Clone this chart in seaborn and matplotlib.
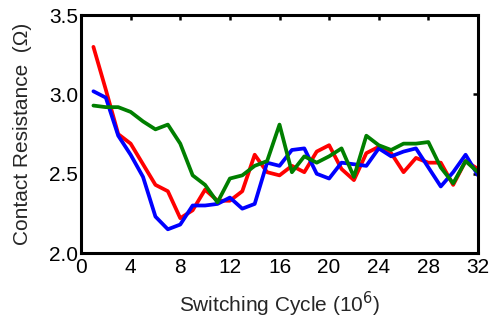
import matplotlib
matplotlib.use("Agg")
import matplotlib.pyplot as plt
import numpy as np
import pandas as pd
import seaborn as sns

# Switching cycles (millions) and measured contact resistance (ohm) for three samples
cycles = list(range(1, 33))
red_vals = [3.30, 3.03, 2.75, 2.69, 2.56, 2.43, 2.39, 2.22, 2.27, 2.40,
            2.33, 2.33, 2.39, 2.62, 2.51, 2.49, 2.55, 2.51, 2.64, 2.68,
            2.53, 2.46, 2.63, 2.67, 2.63, 2.51, 2.60, 2.57, 2.57, 2.43,
            2.58, 2.53]
blue_vals = [3.02, 2.98, 2.74, 2.62, 2.48, 2.23, 2.15, 2.18, 2.30, 2.30,
             2.31, 2.35, 2.28, 2.31, 2.57, 2.55, 2.65, 2.66, 2.50, 2.47,
             2.57, 2.56, 2.55, 2.66, 2.61, 2.64, 2.66, 2.54, 2.42, 2.51,
             2.62, 2.49]
green_vals = [2.93, 2.92, 2.92, 2.89, 2.83, 2.78, 2.81, 2.69, 2.49, 2.43,
              2.32, 2.47, 2.49, 2.55, 2.58, 2.81, 2.51, 2.61, 2.57, 2.61,
              2.66, 2.48, 2.74, 2.68, 2.65, 2.69, 2.69, 2.70, 2.54, 2.44,
              2.58, 2.51]
series_names = ["red", "blue", "green"]
series_colors = ["#ff0000", "#0000ff", "#007f00"]
x_ticks = [0, 4, 8, 12, 16, 20, 24, 28, 32]
y_ticks = [2.0, 2.5, 3.0, 3.5]

df = pd.concat([
    pd.DataFrame({"cycle": cycles, "resistance": vals, "sample": name})
    for name, vals in zip(series_names, [red_vals, blue_vals, green_vals])
])

sns.set_style("white")
plt.rcParams["font.family"] = ["Liberation Sans", "DejaVu Sans"]

fig = plt.figure(figsize=(4.91, 3.22), dpi=100)
ax = fig.add_axes([0.165, 0.214, 0.8085, 0.739])

sns.lineplot(data=df, x="cycle", y="resistance", hue="sample",
             palette=dict(zip(series_names, series_colors)),
             linewidth=2.7, legend=False, ax=ax)

ax.set_xlim(0, 32)
ax.set_ylim(2.0, 3.5)
ax.set_xticks(x_ticks)
ax.set_yticks(y_ticks)
ax.set_yticklabels([f"{v:.1f}" for v in y_ticks])

for sp in ax.spines.values():
    sp.set_visible(True)
    sp.set_linewidth(2.2)
    sp.set_color("black")

ax.tick_params(axis="both", direction="in", length=3.5, width=1.8,
               labelsize=15, pad=2, colors="black",
               top=True, right=True, labeltop=False, labelright=False)
ax.tick_params(axis="x", pad=3.5)

ax.set_xlabel("Switching Cycle (10$^6$)", fontsize=15, labelpad=9)
ax.set_ylabel("Contact Resistance  (\u03a9)", fontsize=15, labelpad=12)

fig.savefig("out.png", dpi=100)
